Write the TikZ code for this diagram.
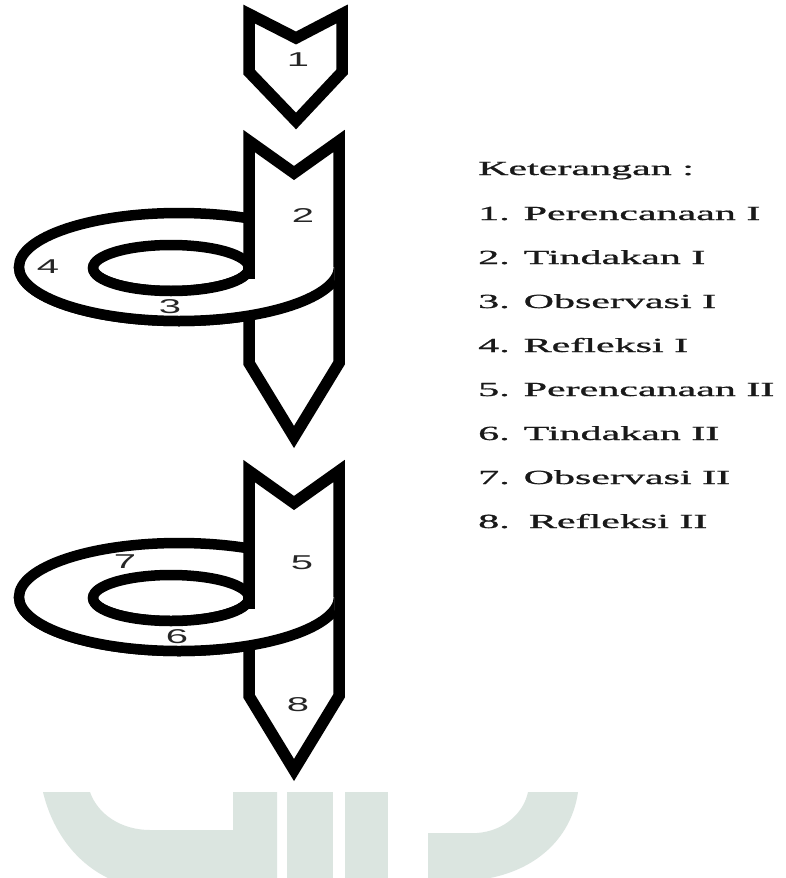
\documentclass[tikz,border=0pt]{standalone}
\usepackage{fontspec}
\usepackage{graphicx}
\setmainfont{Liberation Serif}
\newfontfamily\legendfont[FakeBold=0.8]{Liberation Serif}
\newfontfamily\digitfont{Liberation Sans}
\definecolor{wm}{RGB}{219,229,224}
\newcommand{\widetxt}[1]{\scalebox{2.1}[1]{#1}}
\newcommand{\widedig}[1]{\scalebox{2.0}[1]{#1}}
\begin{document}
\begin{tikzpicture}[x=1bp,y=-1bp,
  shaftline/.style={draw=black,line width=11.5bp,fill=white,line join=miter},
  ringline/.style={draw=black,line width=10.5bp},
  numlabel/.style={font=\fontsize{20bp}{22bp}\digitfont,text=black!85,inner sep=0pt},
  legend/.style={font=\fontsize{20bp}{22bp}\legendfont,anchor=base west,inner sep=0pt,text=black!90}]
\fill[white] (0,0) rectangle (786,878);
\useasboundingbox (0,0) rectangle (786,878);

% watermark
\fill[wm] (43,792) .. controls (52,830) and (75,862) .. (108,878) -- (277,878) -- (277,792) -- (233,792) -- (233,830) -- (150,830) .. controls (122,830) and (98,815) .. (90,792) -- cycle;
\fill[wm] (287,792) rectangle (333,878);
\fill[wm] (345,792) rectangle (388,878);
\fill[wm] (428,878) -- (428,833) -- (477,833) .. controls (505,831) and (524,812) .. (528,792) -- (578,792) .. controls (572,835) and (540,868) .. (490,878) -- cycle;

% block 1
\draw[shaftline] (249,14) -- (296,38) -- (342,14) -- (342,72) -- (296,121) -- (249,72) -- cycle;

% ring 1 (back)
\draw[ringline] (179,267) ellipse [x radius=160, y radius=54];
\draw[ringline] (171,268) ellipse [x radius=78, y radius=23];
% block 2
\draw[shaftline] (249,141) -- (294,173) -- (339,141) -- (339,363) -- (294,437) -- (249,363) -- cycle;
% ring 1 (front)
\begin{scope}
  \clip (0,267) rectangle (334,340);
  \fill[white,even odd rule] (179,267) ellipse [x radius=160, y radius=54] (171,268) ellipse [x radius=78, y radius=23];
  \draw[ringline] (179,267) ellipse [x radius=160, y radius=54];
\end{scope}
\begin{scope}
  \clip (0,267) rectangle (249,340);
  \draw[ringline] (171,268) ellipse [x radius=78, y radius=23];
\end{scope}
\draw[black,line width=11.5bp] (249,260) -- (249,279);

% ring 2 (back)
\draw[ringline] (179,597) ellipse [x radius=160, y radius=54];
\draw[ringline] (171,598) ellipse [x radius=78, y radius=23];
% block 3
\draw[shaftline] (249,471) -- (294,503) -- (339,471) -- (339,696) -- (294,770) -- (249,696) -- cycle;
% ring 2 (front)
\begin{scope}
  \clip (0,597) rectangle (334,670);
  \fill[white,even odd rule] (179,597) ellipse [x radius=160, y radius=54] (171,598) ellipse [x radius=78, y radius=23];
  \draw[ringline] (179,597) ellipse [x radius=160, y radius=54];
\end{scope}
\begin{scope}
  \clip (0,597) rectangle (249,670);
  \draw[ringline] (171,598) ellipse [x radius=78, y radius=23];
\end{scope}
\draw[black,line width=11.5bp] (249,590) -- (249,609);

% number labels
\node[numlabel] (n1) at (298,60) {\widedig{1}};
\node[numlabel] (n2) at (303,216) {\widedig{2}};
\node[numlabel] (n3) at (170,307) {\widedig{3}};
\node[numlabel] (n4) at (48,267) {\widedig{4}};
\node[numlabel] (n5) at (302,563) {\widedig{5}};
\node[numlabel] (n6) at (177,637) {\widedig{6}};
\node[numlabel] (n7) at (125,562) {\widedig{7}};
\node[numlabel] (n8) at (298,705) {\widedig{8}};

% legend
\node[legend] (k0) at (478,175) {\widetxt{Keterangan :}};
\node[legend] (k1) at (478,220) {\widetxt{1. Perencanaan I}};
\node[legend] (k2) at (478,264) {\widetxt{2. Tindakan I}};
\node[legend] (k3) at (478,308) {\widetxt{3. Observasi I}};
\node[legend] (k4) at (478,352) {\widetxt{4. Refleksi I}};
\node[legend] (k5) at (478,396) {\widetxt{5. Perencanaan II}};
\node[legend] (k6) at (478,440) {\widetxt{6. Tindakan II}};
\node[legend] (k7) at (478,484) {\widetxt{7. Observasi II}};
\node[legend] (k8) at (478,528) {\widetxt{8.\hspace{2.5bp} Refleksi II}};
\end{tikzpicture}
\end{document}
